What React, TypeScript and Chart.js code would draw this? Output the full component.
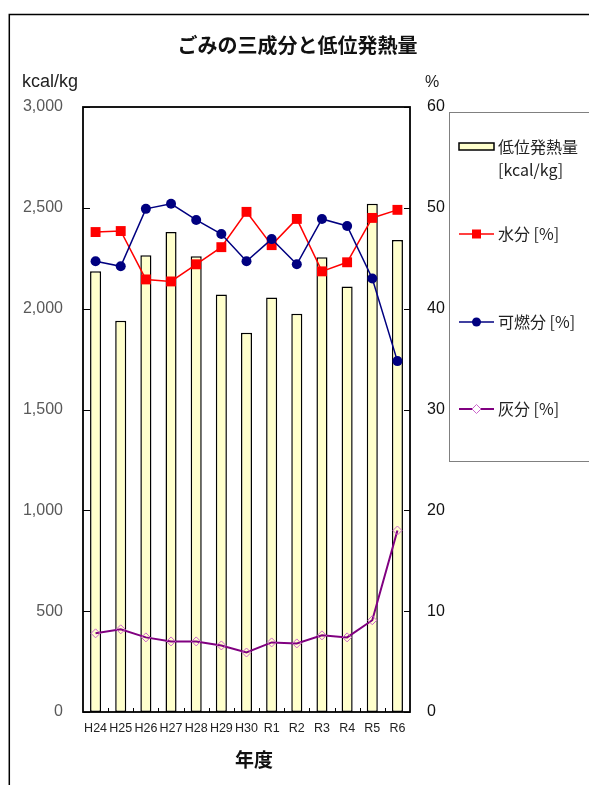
import React, { useEffect, useRef } from "react";
import { Chart, registerables } from "chart.js";

Chart.register(...registerables);

const categories = ["H24", "H25", "H26", "H27", "H28", "H29", "H30", "R1", "R2", "R3", "R4", "R5", "R6"];
const heatValues = [2185, 1940, 2265, 2380, 2260, 2070, 1880, 2055, 1975, 2255, 2110, 2520, 2340];
const waterValues = [47.6, 47.7, 42.9, 42.7, 44.4, 46.1, 49.6, 46.3, 48.9, 43.7, 44.6, 49.0, 49.8];
const combustibleValues = [44.7, 44.2, 49.9, 50.4, 48.8, 47.4, 44.7, 46.9, 44.4, 48.9, 48.2, 43.0, 34.8];
const ashValues = [7.8, 8.2, 7.4, 7.0, 7.0, 6.6, 5.9, 6.9, 6.8, 7.6, 7.4, 9.1, 18.0];
const leftTicks = [0, 500, 1000, 1500, 2000, 2500, 3000];
const rightTicks = [0, 10, 20, 30, 40, 50, 60];

const TITLE = "ごみの三成分と低位発熱量";
const LEFT_UNIT = "kcal/kg";
const RIGHT_UNIT = "%";
const X_TITLE = "年度";
const LEGEND_HEAT = ["低位発熱量", "[kcal/kg]"];
const LEGEND_WATER = "水分 [%]";
const LEGEND_COMB = "可燃分 [%]";
const LEGEND_ASH = "灰分 [%]";

const JP = '"Noto Sans CJK JP", "Noto Sans", sans-serif';
const NUM = '"Liberation Sans", Arial, sans-serif';

const W = 589;
const H = 777;

const decorPlugin = {
  id: "decor",
  beforeDraw(chart: any) {
    const ctx = chart.ctx;
    ctx.save();
    ctx.fillStyle = "#ffffff";
    ctx.fillRect(0, 0, chart.width, chart.height);
    ctx.strokeStyle = "#000";
    ctx.lineWidth = 1.5;
    ctx.beginPath();
    ctx.moveTo(1.3, chart.height);
    ctx.lineTo(1.3, 6.5);
    ctx.lineTo(chart.width, 6.5);
    ctx.stroke();
    ctx.restore();
  },
  afterDraw(chart: any) {
    const ctx = chart.ctx;
    const a = chart.chartArea;
    const yl = chart.scales.y;
    const yr = chart.scales.y1;
    ctx.save();
    // plot frame
    ctx.strokeStyle = "#000";
    ctx.lineWidth = 1.8;
    ctx.strokeRect(a.left, a.top, a.right - a.left, a.bottom - a.top);
    // inner ticks
    ctx.lineWidth = 1;
    ctx.beginPath();
    leftTicks.forEach((v) => {
      const y = Math.round(yl.getPixelForValue(v)) + 0.5;
      ctx.moveTo(a.left, y);
      ctx.lineTo(a.left + 7, y);
    });
    rightTicks.forEach((v) => {
      const y = Math.round(yr.getPixelForValue(v)) + 0.5;
      ctx.moveTo(a.right - 6, y);
      ctx.lineTo(a.right, y);
    });
    const catW = (a.right - a.left) / categories.length;
    for (let i = 1; i < categories.length; i++) {
      const x = Math.round(a.left + i * catW) + 0.5;
      ctx.moveTo(x, a.bottom);
      ctx.lineTo(x, a.bottom - 4);
    }
    ctx.stroke();

    // texts
    ctx.fillStyle = "#111";
    ctx.textBaseline = "middle";
    ctx.textAlign = "center";
    ctx.font = `bold 20px ${JP}`;
    ctx.fillText(TITLE, 289.5, 37);
    ctx.font = `bold 19px ${JP}`;
    ctx.fillText(X_TITLE, 246, 752);
    ctx.textAlign = "left";
    ctx.fillStyle = "#222";
    ctx.font = `18px ${NUM}`;
    ctx.fillText(LEFT_UNIT, 14, 74);
    ctx.font = `16px ${NUM}`;
    ctx.fillText(RIGHT_UNIT, 417, 75);

    // legend box
    ctx.strokeStyle = "#808080";
    ctx.lineWidth = 1;
    ctx.strokeRect(441.5, 104.5, 141, 349);

    // heat swatch
    ctx.fillStyle = "#FFFFCC";
    ctx.fillRect(451, 135, 35, 7);
    ctx.strokeStyle = "#000";
    ctx.lineWidth = 1.5;
    ctx.strokeRect(451, 135, 35, 7);
    ctx.fillStyle = "#222";
    ctx.font = `16px ${JP}`;
    ctx.fillText(LEGEND_HEAT[0], 490, 139);
    ctx.fillText(LEGEND_HEAT[1], 490, 162);

    // water
    ctx.strokeStyle = "#FF0000";
    ctx.lineWidth = 1.5;
    ctx.beginPath();
    ctx.moveTo(451, 226);
    ctx.lineTo(486, 226);
    ctx.stroke();
    ctx.fillStyle = "#FF0000";
    ctx.fillRect(468.5 - 4.5, 226 - 4.5, 9, 9);
    ctx.fillStyle = "#222";
    ctx.fillText(LEGEND_WATER, 490, 226);

    // combustible
    ctx.strokeStyle = "#000080";
    ctx.beginPath();
    ctx.moveTo(451, 314);
    ctx.lineTo(486, 314);
    ctx.stroke();
    ctx.fillStyle = "#000080";
    ctx.beginPath();
    ctx.arc(468.5, 314, 4.5, 0, Math.PI * 2);
    ctx.fill();
    ctx.fillStyle = "#222";
    ctx.fillText(LEGEND_COMB, 490, 314);

    // ash
    ctx.strokeStyle = "#800080";
    ctx.lineWidth = 2;
    ctx.beginPath();
    ctx.moveTo(451, 401);
    ctx.lineTo(486, 401);
    ctx.stroke();
    ctx.fillStyle = "#ffffff";
    ctx.strokeStyle = "#CC66CC";
    ctx.lineWidth = 1;
    ctx.beginPath();
    ctx.moveTo(468.5, 401 - 4.5);
    ctx.lineTo(468.5 + 4.5, 401);
    ctx.lineTo(468.5, 401 + 4.5);
    ctx.lineTo(468.5 - 4.5, 401);
    ctx.closePath();
    ctx.fill();
    ctx.stroke();
    ctx.fillStyle = "#222";
    ctx.fillText(LEGEND_ASH, 490, 401);
    ctx.restore();
  },
};

export default function App() {
  const ref = useRef<HTMLCanvasElement | null>(null);
  useEffect(() => {
    if (!ref.current) return;
    const chart = new Chart(ref.current, {
      type: "bar",
      data: {
        labels: categories,
        datasets: [
          {
            type: "line",
            label: LEGEND_COMB,
            data: combustibleValues,
            yAxisID: "y1",
            borderColor: "#000080",
            backgroundColor: "#000080",
            borderWidth: 1.5,
            pointStyle: "circle",
            pointRadius: 5,
            pointBackgroundColor: "#000080",
            pointBorderColor: "#000080",
            pointBorderWidth: 0,
            tension: 0,
            order: 1,
          } as any,
          {
            type: "line",
            label: LEGEND_WATER,
            data: waterValues,
            yAxisID: "y1",
            borderColor: "#FF0000",
            backgroundColor: "#FF0000",
            borderWidth: 1.5,
            pointStyle: "rect",
            pointRadius: 7,
            pointBackgroundColor: "#FF0000",
            pointBorderColor: "#FF0000",
            pointBorderWidth: 0,
            tension: 0,
            order: 2,
          } as any,
          {
            type: "line",
            label: LEGEND_ASH,
            data: ashValues,
            yAxisID: "y1",
            borderColor: "#800080",
            backgroundColor: "rgba(0,0,0,0)",
            borderWidth: 2,
            pointStyle: "rectRot",
            pointRadius: 4.5,
            pointBackgroundColor: "rgba(255,255,255,0)",
            pointBorderColor: "#CC66CC",
            pointBorderWidth: 1,
            tension: 0,
            order: 3,
          } as any,
          {
            type: "bar",
            label: LEGEND_HEAT.join(" "),
            data: heatValues,
            yAxisID: "y",
            backgroundColor: "#FFFFCC",
            borderColor: "#000000",
            borderWidth: 1.5,
            borderSkipped: false,
            barPercentage: 0.44,
            categoryPercentage: 1,
            order: 10,
          } as any,
        ],
      },
      options: {
        animation: false,
        responsive: false,
        maintainAspectRatio: false,
        layout: { padding: { top: 99, left: 0, right: 0, bottom: 0 } },
        plugins: {
          legend: { display: false },
          title: { display: false },
          tooltip: { enabled: false },
        },
        scales: {
          x: {
            grid: { display: false, drawTicks: false },
            border: { display: false },
            ticks: {
              color: "#222",
              font: { family: NUM, size: 12.5 },
              padding: 9,
              maxRotation: 0,
              autoSkip: false,
            },
            afterFit: (s: any) => {
              s.height = 73;
            },
          },
          y: {
            position: "left",
            min: 0,
            max: 3000,
            grid: { display: false, drawTicks: false },
            border: { display: false },
            ticks: {
              stepSize: 500,
              color: "#595959",
              font: { family: NUM, size: 16 },
              padding: 20,
              callback: (v: any) => Number(v).toLocaleString("en-US"),
            },
            afterFit: (s: any) => {
              s.width = 75;
            },
          },
          y1: {
            position: "right",
            min: 0,
            max: 60,
            grid: { display: false, drawTicks: false },
            border: { display: false },
            ticks: {
              stepSize: 10,
              color: "#111",
              font: { family: NUM, size: 16 },
              padding: 17,
            },
            afterFit: (s: any) => {
              s.width = 187;
            },
          },
        },
      },
      plugins: [decorPlugin],
    });
    return () => chart.destroy();
  }, []);
  return (
    <div style={{ position: "relative", width: W, height: H }}>
      <canvas ref={ref} width={W} height={H} style={{ width: W, height: H, display: "block" }} />
    </div>
  );
}
